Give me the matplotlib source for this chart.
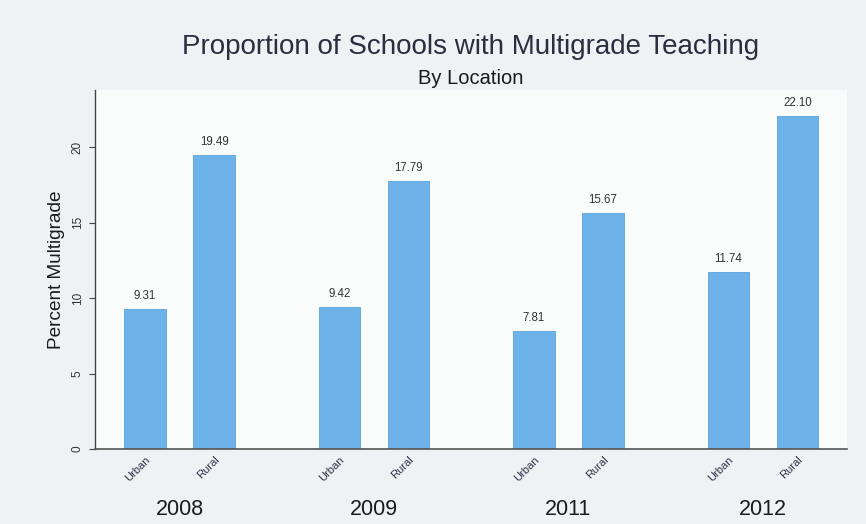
import matplotlib
matplotlib.use("Agg")
import matplotlib.pyplot as plt
import numpy as np

years = ["2008", "2009", "2011", "2012"]
locations = ["Urban", "Rural"]
urban = [9.31, 9.42, 7.81, 11.74]
rural = [19.49, 17.79, 15.67, 22.10]
value_labels_urban = ["9.31", "9.42", "7.81", "11.74"]
value_labels_rural = ["19.49", "17.79", "15.67", "22.10"]
yticks = [0, 5, 10, 15, 20]

plt.rcParams['font.family'] = ['Liberation Sans', 'DejaVu Sans']

fig = plt.figure(figsize=(8.66, 5.24), dpi=100)
fig.patch.set_facecolor('#eef2f4')
ax = fig.add_axes([0.1097, 0.143, 0.868, 0.685])
ax.set_facecolor('#fafbfb')

bar_color = '#6db3e9'
group_gap = 2.81
width = 0.6
xg = np.arange(len(years)) * group_gap
xu = xg
xr = xg + 1.0

ax.bar(xu, urban, width=width, color=bar_color, edgecolor='#5aa3dc', linewidth=0.6)
ax.bar(xr, rural, width=width, color=bar_color, edgecolor='#5aa3dc', linewidth=0.6)

for x, v, s in zip(xu, urban, value_labels_urban):
    ax.text(x, v + 0.45, s, ha='center', va='bottom', fontsize=8.3, color='#333333')
for x, v, s in zip(xr, rural, value_labels_rural):
    ax.text(x, v + 0.45, s, ha='center', va='bottom', fontsize=8.3, color='#333333')

ax.set_xlim(-0.72, xr[-1] + 0.71)
ax.set_ylim(0, 23.8)

for s in ['top', 'right']:
    ax.spines[s].set_visible(False)
ax.spines['left'].set_color('#444444')
ax.spines['bottom'].set_color('#555555')
ax.spines['left'].set_linewidth(1.0)
ax.spines['bottom'].set_linewidth(1.2)

ax.set_yticks(yticks)
ax.set_yticklabels([str(t) for t in yticks], rotation=90, va='center', fontsize=8.5, color='#333333')
ax.tick_params(axis='y', length=4, width=0.8, color='#444444', pad=4)

xt = np.concatenate([[a, b] for a, b in zip(xu, xr)])
ax.set_xticks(xt)
ax.set_xticklabels(locations * len(years), rotation=45, ha='right', va='top',
                   rotation_mode='anchor', fontsize=8, color='#2e3348')
ax.tick_params(axis='x', length=0, pad=4)

for x, y in zip(xg + 0.5, years):
    ax.text(x, -0.168, y, transform=ax.get_xaxis_transform(), ha='center', va='center',
            fontsize=15.5, color='#1a1a1a')

ax.set_ylabel("Percent Multigrade", fontsize=13.7, color='#1a1a1a', labelpad=5)

fig.text(0.543, 0.91, "Proportion of Schools with Multigrade Teaching", ha='center', va='center',
         fontsize=20, color='#2a2f40')
fig.text(0.543, 0.85, "By Location", ha='center', va='center', fontsize=14.5, color='#1a1a1a')

fig.savefig("out.png", dpi=100, facecolor=fig.get_facecolor())
